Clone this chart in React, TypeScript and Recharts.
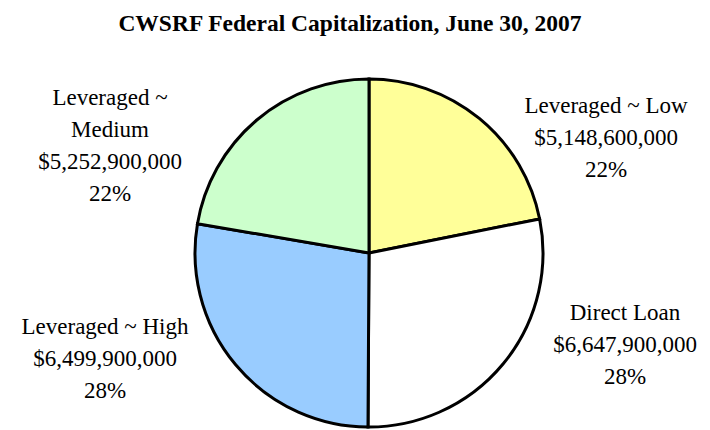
import React from 'react'
import { PieChart, Pie, Cell } from 'recharts'

const categories = ['Leveraged ~ Low', 'Direct Loan', 'Leveraged ~ High', 'Leveraged ~ Medium']
const amounts = [5148600000, 6647900000, 6499900000, 5252900000]
const sliceColors = ['#FFFF99', '#FFFFFF', '#99CCFF', '#CCFFCC']

// label block centres relative to the pie centre (Excel places these by hand)
const labelOffsets = [
  [237, -116],
  [256, 91],
  [-264, 105],
  [-259, -108],
]

const data = categories.map((name, i) => ({ name, value: amounts[i] }))

const FONT = '"Liberation Serif", "Times New Roman", serif'
const LINE_H = 32

const renderLabel = (props: any) => {
  const { cx, cy, index, name, value, percent } = props
  const lines: string[] = []
  if (name.length > 16) {
    const cut = name.lastIndexOf(' ')
    lines.push(name.slice(0, cut), name.slice(cut + 1))
  } else {
    lines.push(name)
  }
  lines.push('$' + Number(value).toLocaleString('en-US'))
  lines.push(Math.round(percent * 100) + '%')
  const [dx, dy] = labelOffsets[index]
  const x = cx + dx
  const top = cy + dy - ((lines.length - 1) * LINE_H) / 2
  return (
    <text
      x={x}
      y={top}
      textAnchor="middle"
      dominantBaseline="central"
      fontFamily={FONT}
      fontSize={23}
      fill="#000"
    >
      {lines.map((l, i) => (
        <tspan key={i} x={x} y={top + i * LINE_H}>
          {l}
        </tspan>
      ))}
    </text>
  )
}

export default function App() {
  return (
    <div style={{ position: 'absolute', left: 0, top: 0, width: 710, height: 430, background: '#fff' }}>
      <PieChart width={710} height={430} margin={{ top: 0, right: 0, bottom: 0, left: 0 }}>
        <text
          x={350}
          y={23}
          textAnchor="middle"
          dominantBaseline="central"
          fontFamily={FONT}
          fontWeight="bold"
          fontSize={23.5}
          fill="#000"
        >
          CWSRF Federal Capitalization, June 30, 2007
        </text>
        <Pie
          data={data}
          dataKey="value"
          nameKey="name"
          cx={369}
          cy={253}
          outerRadius={174}
          startAngle={90}
          endAngle={-270}
          stroke="#000"
          strokeWidth={3}
          label={renderLabel}
          labelLine={false}
          isAnimationActive={false}
        >
          {data.map((d, i) => (
            <Cell key={d.name} fill={sliceColors[i]} />
          ))}
        </Pie>
      </PieChart>
    </div>
  )
}
